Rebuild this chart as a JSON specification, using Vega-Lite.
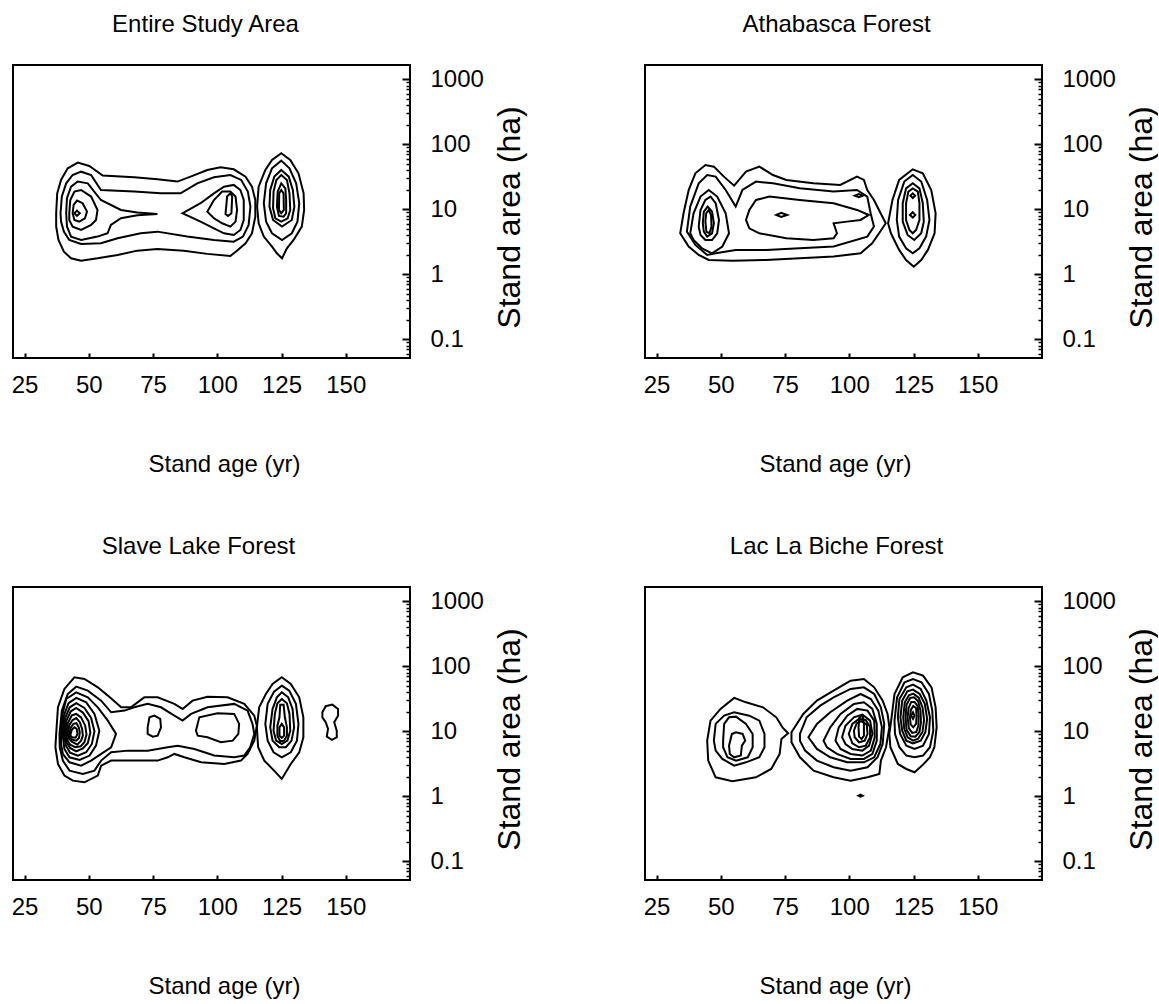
{
"$schema": "https://vega.github.io/schema/vega-lite/v6.json",
"background": "white",
"padding": {"left": 10, "top": 12, "right": 0, "bottom": 0},
"config": {
"view": {"stroke": "black", "strokeWidth": 2},
"font": "Liberation Sans",
"title": {"fontSize": 24, "fontWeight": "normal", "color": "black", "font": "Liberation Sans", "anchor": "middle", "frame": "group", "baseline": "alphabetic", "offset": 28},
"axisX": {"tickSize": -5, "tickWidth": 2, "tickColor": "black", "domain": false, "grid": false, "labelFont": "Liberation Sans", "labelFontSize": 24, "labelColor": "black", "labelPadding": 20, "titleFont": "Liberation Sans", "titleFontSize": 24, "titleFontWeight": "normal", "titleColor": "black", "titleY": 113, "titleAlign": "center", "titleBaseline": "alphabetic"},
"axisY": {"tickSize": -8, "tickWidth": 2, "tickColor": "black", "domain": false, "grid": false, "labelFont": "Liberation Sans", "labelFontSize": 24, "labelColor": "black", "labelPadding": 28, "labelAlign": "left", "titleFont": "Liberation Sans", "titleFontSize": 32, "titleFontWeight": "normal", "titleColor": "black", "titleAngle": -90, "titleX": 109, "titleY": 152, "titleAlign": "center", "titleBaseline": "alphabetic"}
},
"bounds": "flush",
"columns": 2,
"spacing": {"row": 229, "column": 235},
"datasets": {
"entire": [
{"c":"R1","age":124.9,"area":72.7},{"c":"R1","age":128.4,"area":57.4},{"c":"R1","age":131.6,"area":35.8},{"c":"R1","age":133.6,"area":17.6},{"c":"R1","age":133.8,"area":9.77},{"c":"R1","age":132.9,"area":5.41},{"c":"R1","age":129.7,"area":3.37},{"c":"R1","age":127.1,"area":2.51},{"c":"R1","age":125.2,"area":1.76},{"c":"R1","age":123.2,"area":2.10},{"c":"R1","age":121.3,"area":2.67},{"c":"R1","age":118.1,"area":3.80},{"c":"R1","age":116.1,"area":6.09},{"c":"R1","age":115.5,"area":11.0},{"c":"R1","age":116.1,"area":22.3},{"c":"R1","age":118.7,"area":40.3},{"c":"R1","age":121.3,"area":57.4},
{"c":"R2","age":124.9,"area":56.1},{"c":"R2","age":128.1,"area":42.7},{"c":"R2","age":130.7,"area":25.1},{"c":"R2","age":131.9,"area":12.4},{"c":"R2","age":131.2,"area":6.46},{"c":"R2","age":129.0,"area":4.27},{"c":"R2","age":125.2,"area":3.37},{"c":"R2","age":121.3,"area":4.27},{"c":"R2","age":119.0,"area":6.46},{"c":"R2","age":118.1,"area":12.4},{"c":"R2","age":119.0,"area":25.1},{"c":"R2","age":121.3,"area":42.7},
{"c":"R3","age":124.9,"area":40.3},{"c":"R3","age":127.8,"area":31.8},{"c":"R3","age":129.4,"area":19.8},{"c":"R3","age":130.0,"area":11.0},{"c":"R3","age":129.0,"area":6.85},{"c":"R3","age":125.2,"area":5.41},{"c":"R3","age":121.7,"area":6.85},{"c":"R3","age":120.3,"area":11.0},{"c":"R3","age":120.6,"area":19.8},{"c":"R3","age":122.2,"area":31.8},
{"c":"R4","age":124.9,"area":33.7},{"c":"R4","age":127.1,"area":28.3},{"c":"R4","age":128.1,"area":17.6},{"c":"R4","age":128.4,"area":9.77},{"c":"R4","age":127.4,"area":7.27},{"c":"R4","age":124.9,"area":6.46},{"c":"R4","age":122.6,"area":7.27},{"c":"R4","age":121.7,"area":10.4},{"c":"R4","age":121.9,"area":18.7},{"c":"R4","age":123.0,"area":28.3},
{"c":"R5","age":124.9,"area":25.1},{"c":"R5","age":126.5,"area":21.0},{"c":"R5","age":126.8,"area":13.9},{"c":"R5","age":126.8,"area":8.68},{"c":"R5","age":125.8,"area":7.71},{"c":"R5","age":124.0,"area":7.9},{"c":"R5","age":123.2,"area":11.0},{"c":"R5","age":123.5,"area":18.7},
{"c":"R6","age":124.9,"area":19.8},{"c":"R6","age":125.8,"area":17.6},{"c":"R6","age":125.9,"area":9.77},{"c":"R6","age":124.9,"area":8.68},{"c":"R6","age":124.0,"area":9.77},{"c":"R6","age":124.1,"area":17.6},
{"c":"C1","age":37.3,"area":8.68},{"c":"C1","age":37.7,"area":17.6},{"c":"C1","age":39.2,"area":28.3},{"c":"C1","age":41.8,"area":42.7},{"c":"C1","age":45.7,"area":52.2},{"c":"C1","age":50.2,"area":46.4},{"c":"C1","age":55.4,"area":33.0},{"c":"C1","age":67.7,"area":31.1},{"c":"C1","age":76.7,"area":29.0},{"c":"C1","age":84.5,"area":26.7},{"c":"C1","age":89.6,"area":31.8},{"c":"C1","age":96.1,"area":40.3},{"c":"C1","age":101.3,"area":44.3},{"c":"C1","age":106.4,"area":41.2},{"c":"C1","age":111.0,"area":31.8},{"c":"C1","age":113.5,"area":22.3},{"c":"C1","age":114.8,"area":13.9},{"c":"C1","age":114.8,"area":7.71},{"c":"C1","age":113.5,"area":4.27},{"c":"C1","age":111.0,"area":3.00},{"c":"C1","age":108.0,"area":2.37},{"c":"C1","age":105.1,"area":1.91},{"c":"C1","age":96.1,"area":2.06},{"c":"C1","age":87.0,"area":2.31},{"c":"C1","age":76.7,"area":2.45},{"c":"C1","age":68.9,"area":2.31},{"c":"C1","age":61.2,"area":1.98},{"c":"C1","age":53.4,"area":1.76},{"c":"C1","age":47.0,"area":1.62},{"c":"C1","age":43.1,"area":1.76},{"c":"C1","age":40.3,"area":2.23},{"c":"C1","age":38.2,"area":3.37},{"c":"C1","age":37.3,"area":5.41},
{"c":"C2","age":39.0,"area":8.68},{"c":"C2","age":39.5,"area":15.7},{"c":"C2","age":41.2,"area":25.1},{"c":"C2","age":43.7,"area":33.7},{"c":"C2","age":47.0,"area":37.9},{"c":"C2","age":50.9,"area":33.7},{"c":"C2","age":54.7,"area":19.8},{"c":"C2","age":67.7,"area":18.7},{"c":"C2","age":78.0,"area":17.6},{"c":"C2","age":85.7,"area":17.6},{"c":"C2","age":92.2,"area":25.1},{"c":"C2","age":98.7,"area":31.1},{"c":"C2","age":105.1,"area":33.7},{"c":"C2","age":109.3,"area":28.3},{"c":"C2","age":111.9,"area":18.7},{"c":"C2","age":112.9,"area":11.0},{"c":"C2","age":112.2,"area":5.74},{"c":"C2","age":110.0,"area":3.80},{"c":"C2","age":106.4,"area":3.18},{"c":"C2","age":98.7,"area":3.37},{"c":"C2","age":88.3,"area":3.80},{"c":"C2","age":76.7,"area":4.53},{"c":"C2","age":70.2,"area":4.27},{"c":"C2","age":61.2,"area":3.58},{"c":"C2","age":54.7,"area":3.00},{"c":"C2","age":47.0,"area":2.93},{"c":"C2","age":42.4,"area":3.37},{"c":"C2","age":40.3,"area":4.53},{"c":"C2","age":39.2,"area":6.46},
{"c":"C3","age":41.2,"area":8.68},{"c":"C3","age":41.5,"area":14.8},{"c":"C3","age":43.1,"area":22.3},{"c":"C3","age":45.7,"area":26.7},{"c":"C3","age":49.6,"area":25.1},{"c":"C3","age":54.7,"area":13.9},{"c":"C3","age":62.5,"area":9.77},{"c":"C3","age":68.9,"area":8.89},{"c":"C3","age":76.7,"area":8.47},{"c":"C3","age":68.9,"area":8.09},{"c":"C3","age":62.5,"area":7.27},{"c":"C3","age":58.6,"area":5.74},{"c":"C3","age":57.3,"area":4.27},{"c":"C3","age":53.4,"area":3.80},{"c":"C3","age":47.0,"area":3.37},{"c":"C3","age":43.1,"area":3.80},{"c":"C3","age":41.5,"area":5.41},
{"c":"C3m","age":86.4,"area":8.68},{"c":"C3m","age":93.5,"area":12.4},{"c":"C3m","age":98.7,"area":17.6},{"c":"C3m","age":102.6,"area":22.3},{"c":"C3m","age":106.4,"area":23.7},{"c":"C3m","age":109.0,"area":19.8},{"c":"C3m","age":110.3,"area":13.9},{"c":"C3m","age":110.3,"area":6.85},{"c":"C3m","age":109.0,"area":4.81},{"c":"C3m","age":106.4,"area":4.03},{"c":"C3m","age":102.6,"area":4.27},{"c":"C3m","age":98.7,"area":5.10},{"c":"C3m","age":93.5,"area":6.46},
{"c":"C4","age":42.4,"area":8.68},{"c":"C4","age":42.8,"area":13.9},{"c":"C4","age":44.4,"area":18.7},{"c":"C4","age":47.0,"area":19.8},{"c":"C4","age":50.9,"area":15.7},{"c":"C4","age":53.4,"area":9.77},{"c":"C4","age":52.8,"area":6.85},{"c":"C4","age":50.9,"area":5.74},{"c":"C4","age":47.0,"area":4.81},{"c":"C4","age":43.7,"area":5.41},{"c":"C4","age":42.4,"area":6.85},
{"c":"C4m","age":96.1,"area":9.20},{"c":"C4m","age":98.7,"area":13.9},{"c":"C4m","age":101.9,"area":18.7},{"c":"C4m","age":105.1,"area":18.7},{"c":"C4m","age":107.1,"area":15.7},{"c":"C4m","age":107.7,"area":9.77},{"c":"C4m","age":107.1,"area":6.46},{"c":"C4m","age":105.1,"area":5.41},{"c":"C4m","age":101.9,"area":6.09},{"c":"C4m","age":98.7,"area":7.27},
{"c":"C5","age":43.7,"area":8.68},{"c":"C5","age":44.1,"area":11.7},{"c":"C5","age":45.4,"area":13.6},{"c":"C5","age":47.6,"area":12.4},{"c":"C5","age":49.3,"area":9.20},{"c":"C5","age":48.5,"area":7.27},{"c":"C5","age":46.3,"area":6.46},{"c":"C5","age":44.4,"area":6.85},
{"c":"C5m","age":103.8,"area":15.7},{"c":"C5m","age":105.1,"area":17.6},{"c":"C5m","age":105.8,"area":15.7},{"c":"C5m","age":105.5,"area":8.68},{"c":"C5m","age":104.2,"area":7.9},{"c":"C5m","age":103.2,"area":8.47},{"c":"C5m","age":103.6,"area":12.4},
{"c":"C6","age":44.4,"area":8.68},{"c":"C6","age":45.4,"area":9.55},{"c":"C6","age":46.5,"area":8.68},{"c":"C6","age":45.4,"area":7.9}
],
"athabasca": [
{"c":"A1","age":34.2,"area":4.27},{"c":"A1","age":35.5,"area":8.68},{"c":"A1","age":37.5,"area":19.8},{"c":"A1","age":40.1,"area":35.8},{"c":"A1","age":44.0,"area":48.1},{"c":"A1","age":47.3,"area":45.3},{"c":"A1","age":51.2,"area":31.8},{"c":"A1","age":55.2,"area":23.1},{"c":"A1","age":59.8,"area":37.9},{"c":"A1","age":65.0,"area":45.3},{"c":"A1","age":70.3,"area":33.7},{"c":"A1","age":75.5,"area":28.3},{"c":"A1","age":86.0,"area":25.1},{"c":"A1","age":96.5,"area":23.7},{"c":"A1","age":103.0,"area":31.8},{"c":"A1","age":105.7,"area":28.3},{"c":"A1","age":107.0,"area":19.8},{"c":"A1","age":109.6,"area":13.9},{"c":"A1","age":112.2,"area":8.68},{"c":"A1","age":114.2,"area":6.09},{"c":"A1","age":111.6,"area":4.27},{"c":"A1","age":108.9,"area":3.00},{"c":"A1","age":104.4,"area":2.10},{"c":"A1","age":93.9,"area":1.87},{"c":"A1","age":80.7,"area":1.76},{"c":"A1","age":67.6,"area":1.66},{"c":"A1","age":54.5,"area":1.62},{"c":"A1","age":45.3,"area":1.66},{"c":"A1","age":41.4,"area":1.98},{"c":"A1","age":37.5,"area":2.67},
{"c":"A2","age":36.8,"area":4.53},{"c":"A2","age":38.1,"area":11.0},{"c":"A2","age":41.4,"area":25.1},{"c":"A2","age":44.7,"area":33.7},{"c":"A2","age":48.0,"area":31.8},{"c":"A2","age":51.9,"area":19.8},{"c":"A2","age":55.8,"area":11.0},{"c":"A2","age":58.4,"area":19.8},{"c":"A2","age":63.7,"area":26.7},{"c":"A2","age":70.3,"area":25.1},{"c":"A2","age":80.7,"area":21.0},{"c":"A2","age":93.9,"area":18.7},{"c":"A2","age":103.0,"area":19.8},{"c":"A2","age":107.0,"area":15.7},{"c":"A2","age":108.3,"area":8.68},{"c":"A2","age":109.6,"area":5.41},{"c":"A2","age":107.0,"area":3.80},{"c":"A2","age":93.9,"area":2.67},{"c":"A2","age":80.7,"area":2.51},{"c":"A2","age":67.6,"area":2.37},{"c":"A2","age":55.8,"area":2.37},{"c":"A2","age":48.0,"area":2.10},{"c":"A2","age":44.7,"area":1.98},{"c":"A2","age":40.1,"area":2.83},
{"c":"A3","age":38.1,"area":4.27},{"c":"A3","age":39.4,"area":8.68},{"c":"A3","age":42.1,"area":15.7},{"c":"A3","age":45.3,"area":19.8},{"c":"A3","age":48.6,"area":15.7},{"c":"A3","age":51.9,"area":8.68},{"c":"A3","age":53.2,"area":4.27},{"c":"A3","age":50.6,"area":2.67},{"c":"A3","age":46.6,"area":2.10},{"c":"A3","age":42.7,"area":2.51},{"c":"A3","age":39.4,"area":3.37},
{"c":"A4","age":41.4,"area":5.41},{"c":"A4","age":42.1,"area":9.77},{"c":"A4","age":44.0,"area":13.9},{"c":"A4","age":46.0,"area":15.7},{"c":"A4","age":48.0,"area":12.4},{"c":"A4","age":49.3,"area":6.85},{"c":"A4","age":48.6,"area":4.27},{"c":"A4","age":46.6,"area":3.37},{"c":"A4","age":44.0,"area":3.37},{"c":"A4","age":42.1,"area":4.03},
{"c":"A5","age":43.0,"area":6.09},{"c":"A5","age":43.4,"area":9.20},{"c":"A5","age":44.9,"area":11.0},{"c":"A5","age":46.6,"area":9.20},{"c":"A5","age":47.3,"area":6.09},{"c":"A5","age":46.6,"area":4.27},{"c":"A5","age":44.7,"area":3.80},{"c":"A5","age":43.4,"area":4.53},
{"c":"A6","age":44.0,"area":6.46},{"c":"A6","age":44.3,"area":8.68},{"c":"A6","age":45.3,"area":9.77},{"c":"A6","age":46.2,"area":8.18},{"c":"A6","age":46.4,"area":5.41},{"c":"A6","age":45.6,"area":4.27},{"c":"A6","age":44.4,"area":4.53},
{"c":"B","age":59.8,"area":6.85},{"c":"B","age":61.1,"area":9.77},{"c":"B","age":63.7,"area":13.9},{"c":"B","age":68.9,"area":15.7},{"c":"B","age":80.7,"area":13.9},{"c":"B","age":93.9,"area":12.4},{"c":"B","age":103.0,"area":9.77},{"c":"B","age":107.6,"area":8.18},{"c":"B","age":104.4,"area":6.85},{"c":"B","age":99.1,"area":6.46},{"c":"B","age":93.9,"area":6.09},{"c":"B","age":95.2,"area":4.27},{"c":"B","age":93.9,"area":3.58},{"c":"B","age":86.0,"area":3.37},{"c":"B","age":75.5,"area":3.58},{"c":"B","age":65.0,"area":4.27},{"c":"B","age":61.1,"area":5.10},
{"c":"E1","age":71.6,"area":8.18},{"c":"E1","age":73.5,"area":8.79},{"c":"E1","age":75.8,"area":8.18},{"c":"E1","age":73.5,"area":7.62},
{"c":"E2","age":102.1,"area":16.2},{"c":"E2","age":103.7,"area":17.2},{"c":"E2","age":105.3,"area":16.2},{"c":"E2","age":103.7,"area":15.3},
{"c":"RB1","age":124.7,"area":41.2},{"c":"RB1","age":128.6,"area":35.8},{"c":"RB1","age":131.9,"area":19.8},{"c":"RB1","age":133.6,"area":8.68},{"c":"RB1","age":133.2,"area":4.27},{"c":"RB1","age":130.6,"area":2.37},{"c":"RB1","age":128.0,"area":1.66},{"c":"RB1","age":125.1,"area":1.31},{"c":"RB1","age":122.1,"area":1.66},{"c":"RB1","age":119.4,"area":2.37},{"c":"RB1","age":116.2,"area":4.27},{"c":"RB1","age":115.1,"area":6.09},{"c":"RB1","age":116.8,"area":13.9},{"c":"RB1","age":119.4,"area":28.3},
{"c":"RB2","age":124.7,"area":33.7},{"c":"RB2","age":128.0,"area":26.7},{"c":"RB2","age":130.3,"area":13.9},{"c":"RB2","age":131.2,"area":6.85},{"c":"RB2","age":129.9,"area":3.80},{"c":"RB2","age":127.3,"area":2.51},{"c":"RB2","age":124.7,"area":2.10},{"c":"RB2","age":122.1,"area":2.51},{"c":"RB2","age":119.4,"area":3.80},{"c":"RB2","age":118.5,"area":6.85},{"c":"RB2","age":119.0,"area":13.9},{"c":"RB2","age":121.4,"area":26.7},
{"c":"RB3","age":124.7,"area":25.1},{"c":"RB3","age":127.3,"area":21.0},{"c":"RB3","age":128.6,"area":12.4},{"c":"RB3","age":129.0,"area":6.46},{"c":"RB3","age":128.0,"area":4.27},{"c":"RB3","age":125.3,"area":3.37},{"c":"RB3","age":122.7,"area":4.03},{"c":"RB3","age":120.8,"area":6.46},{"c":"RB3","age":120.8,"area":12.4},{"c":"RB3","age":122.1,"area":21.0},
{"c":"RB4","age":124.7,"area":21.0},{"c":"RB4","age":126.7,"area":18.7},{"c":"RB4","age":127.3,"area":12.4},{"c":"RB4","age":127.3,"area":6.85},{"c":"RB4","age":126.0,"area":4.81},{"c":"RB4","age":124.7,"area":4.27},{"c":"RB4","age":123.4,"area":4.81},{"c":"RB4","age":122.1,"area":6.85},{"c":"RB4","age":122.1,"area":12.4},{"c":"RB4","age":123.0,"area":18.7},
{"c":"RB5","age":123.8,"area":16.2},{"c":"RB5","age":124.7,"area":17.6},{"c":"RB5","age":125.6,"area":16.2},{"c":"RB5","age":124.7,"area":14.9},
{"c":"RB6","age":123.6,"area":8.18},{"c":"RB6","age":124.7,"area":9.0},{"c":"RB6","age":125.7,"area":8.18},{"c":"RB6","age":124.7,"area":7.45}
],
"slave": [
{"c":"S1","age":37.3,"area":9.1},{"c":"S1","age":38.0,"area":23.4},{"c":"S1","age":40.5,"area":44.8},{"c":"S1","age":44.4,"area":67.7},{"c":"S1","age":48.3,"area":63.8},{"c":"S1","age":53.5,"area":47.5},{"c":"S1","age":57.4,"area":35.4},{"c":"S1","age":62.6,"area":23.4},{"c":"S1","age":66.4,"area":23.4},{"c":"S1","age":71.6,"area":33.3},{"c":"S1","age":76.8,"area":33.3},{"c":"S1","age":83.3,"area":26.4},{"c":"S1","age":86.5,"area":22.1},{"c":"S1","age":90.4,"area":29.6},{"c":"S1","age":96.2,"area":34.1},{"c":"S1","age":104.0,"area":33.3},{"c":"S1","age":110.5,"area":26.4},{"c":"S1","age":114.4,"area":17.4},{"c":"S1","age":115.4,"area":12.2},{"c":"S1","age":114.4,"area":7.18},{"c":"S1","age":111.8,"area":4.48},{"c":"S1","age":109.2,"area":3.54},{"c":"S1","age":102.7,"area":3.14},{"c":"S1","age":93.7,"area":3.33},{"c":"S1","age":87.2,"area":3.98},{"c":"S1","age":83.3,"area":4.48},{"c":"S1","age":80.7,"area":3.98},{"c":"S1","age":76.8,"area":3.54},{"c":"S1","age":67.7,"area":3.54},{"c":"S1","age":58.7,"area":3.54},{"c":"S1","age":54.8,"area":2.96},{"c":"S1","age":53.5,"area":2.08},{"c":"S1","age":48.3,"area":1.64},{"c":"S1","age":43.8,"area":1.74},{"c":"S1","age":40.5,"area":2.08},{"c":"S1","age":38.0,"area":3.14},{"c":"S1","age":37.0,"area":5.68},
{"c":"S2","age":38.6,"area":9.1},{"c":"S2","age":39.5,"area":20.8},{"c":"S2","age":41.8,"area":37.5},{"c":"S2","age":45.1,"area":48.6},{"c":"S2","age":49.6,"area":42.3},{"c":"S2","age":54.8,"area":29.6},{"c":"S2","age":58.7,"area":19.6},{"c":"S2","age":63.9,"area":20.8},{"c":"S2","age":67.7,"area":23.4},{"c":"S2","age":72.9,"area":26.4},{"c":"S2","age":78.1,"area":23.4},{"c":"S2","age":83.3,"area":17.4},{"c":"S2","age":86.5,"area":14.6},{"c":"S2","age":89.8,"area":18.5},{"c":"S2","age":96.2,"area":23.4},{"c":"S2","age":106.6,"area":26.4},{"c":"S2","age":111.8,"area":20.8},{"c":"S2","age":113.7,"area":13.0},{"c":"S2","age":114.4,"area":9.1},{"c":"S2","age":112.8,"area":5.68},{"c":"S2","age":110.5,"area":4.23},{"c":"S2","age":106.6,"area":3.98},{"c":"S2","age":98.8,"area":4.23},{"c":"S2","age":91.1,"area":5.35},{"c":"S2","age":84.6,"area":6.01},{"c":"S2","age":80.7,"area":5.68},{"c":"S2","age":72.9,"area":5.04},{"c":"S2","age":65.2,"area":5.04},{"c":"S2","age":58.7,"area":4.75},{"c":"S2","age":54.8,"area":3.54},{"c":"S2","age":52.2,"area":2.48},{"c":"S2","age":47.7,"area":2.21},{"c":"S2","age":42.5,"area":2.48},{"c":"S2","age":39.9,"area":3.54},{"c":"S2","age":38.7,"area":5.68},
{"c":"G1","age":72.9,"area":11.5},{"c":"G1","age":73.6,"area":16.4},{"c":"G1","age":75.5,"area":17.4},{"c":"G1","age":77.8,"area":15.5},{"c":"G1","age":78.1,"area":11.5},{"c":"G1","age":76.8,"area":8.57},{"c":"G1","age":74.9,"area":8.28},{"c":"G1","age":72.9,"area":9.1},
{"c":"G2","age":91.7,"area":10.2},{"c":"G2","age":93.0,"area":16.4},{"c":"G2","age":100.1,"area":18.9},{"c":"G2","age":106.6,"area":18.5},{"c":"G2","age":108.5,"area":13.0},{"c":"G2","age":108.2,"area":9.1},{"c":"G2","age":106.0,"area":7.18},{"c":"G2","age":101.4,"area":6.78},{"c":"G2","age":96.2,"area":8.09},{"c":"G2","age":92.4,"area":8.57},
{"c":"L3","age":39.2,"area":9.1},{"c":"L3","age":39.8,"area":18.5},{"c":"L3","age":41.2,"area":31.4},{"c":"L3","age":45.1,"area":39.8},{"c":"L3","age":49.6,"area":33.3},{"c":"L3","age":53.5,"area":23.4},{"c":"L3","age":57.4,"area":14.6},{"c":"L3","age":60.6,"area":9.1},{"c":"L3","age":58.7,"area":5.68},{"c":"L3","age":54.8,"area":4.48},{"c":"L3","age":50.9,"area":3.54},{"c":"L3","age":47.0,"area":2.96},{"c":"L3","age":42.5,"area":3.33},{"c":"L3","age":39.9,"area":4.48},{"c":"L3","age":39.2,"area":6.38},
{"c":"L4","age":39.8,"area":9.1},{"c":"L4","age":40.3,"area":17.4},{"c":"L4","age":42.1,"area":27.0},{"c":"L4","age":45.1,"area":32.6},{"c":"L4","age":49.0,"area":27.9},{"c":"L4","age":52.2,"area":18.5},{"c":"L4","age":54.1,"area":10.2},{"c":"L4","age":52.8,"area":6.01},{"c":"L4","age":50.3,"area":4.23},{"c":"L4","age":46.4,"area":3.62},{"c":"L4","age":42.5,"area":3.98},{"c":"L4","age":40.5,"area":5.35},
{"c":"L5","age":40.3,"area":9.1},{"c":"L5","age":40.8,"area":16.0},{"c":"L5","age":42.6,"area":23.4},{"c":"L5","age":45.1,"area":27.0},{"c":"L5","age":48.3,"area":22.9},{"c":"L5","age":50.9,"area":16.0},{"c":"L5","age":52.2,"area":10.0},{"c":"L5","age":51.2,"area":6.38},{"c":"L5","age":49.0,"area":4.75},{"c":"L5","age":45.7,"area":4.23},{"c":"L5","age":42.7,"area":4.70},{"c":"L5","age":41.1,"area":6.01},
{"c":"L6","age":40.8,"area":9.1},{"c":"L6","age":41.3,"area":14.6},{"c":"L6","age":43.0,"area":20.3},{"c":"L6","age":45.1,"area":22.9},{"c":"L6","age":47.7,"area":19.4},{"c":"L6","age":49.9,"area":14.3},{"c":"L6","age":50.6,"area":9.55},{"c":"L6","age":49.6,"area":6.53},{"c":"L6","age":47.7,"area":5.47},{"c":"L6","age":45.1,"area":4.92},{"c":"L6","age":42.7,"area":5.55},{"c":"L6","age":41.3,"area":6.78},
{"c":"L7","age":41.3,"area":9.1},{"c":"L7","age":41.8,"area":13.3},{"c":"L7","age":43.4,"area":17.6},{"c":"L7","age":45.1,"area":18.5},{"c":"L7","age":47.0,"area":16.4},{"c":"L7","age":48.6,"area":12.2},{"c":"L7","age":49.1,"area":8.89},{"c":"L7","age":48.3,"area":6.78},{"c":"L7","age":46.8,"area":5.87},{"c":"L7","age":44.7,"area":5.68},{"c":"L7","age":42.7,"area":6.24},{"c":"L7","age":41.6,"area":7.36},
{"c":"L8","age":41.8,"area":9.1},{"c":"L8","age":42.4,"area":12.4},{"c":"L8","age":43.7,"area":14.9},{"c":"L8","age":45.1,"area":16.0},{"c":"L8","age":46.5,"area":13.8},{"c":"L8","age":47.4,"area":10.9},{"c":"L8","age":47.7,"area":8.57},{"c":"L8","age":47.0,"area":7.18},{"c":"L8","age":45.5,"area":6.24},{"c":"L8","age":43.4,"area":6.93},{"c":"L8","age":42.1,"area":7.8},
{"c":"L9","age":42.4,"area":9.1},{"c":"L9","age":42.9,"area":11.2},{"c":"L9","age":44.0,"area":13.0},{"c":"L9","age":45.2,"area":13.3},{"c":"L9","age":46.1,"area":11.5},{"c":"L9","age":46.5,"area":9.55},{"c":"L9","age":46.2,"area":7.9},{"c":"L9","age":45.1,"area":7.18},{"c":"L9","age":43.4,"area":7.45},{"c":"L9","age":42.5,"area":8.09},
{"c":"L10","age":42.9,"area":9.1},{"c":"L10","age":43.4,"area":10.5},{"c":"L10","age":44.4,"area":11.5},{"c":"L10","age":45.3,"area":10.9},{"c":"L10","age":45.6,"area":9.1},{"c":"L10","age":44.9,"area":8.0},{"c":"L10","age":43.7,"area":8.0},{"c":"L10","age":43.0,"area":8.37},
{"c":"T1","age":125.1,"area":67.7},{"c":"T1","age":128.6,"area":53.5},{"c":"T1","age":131.9,"area":33.3},{"c":"T1","age":133.5,"area":16.4},{"c":"T1","age":133.5,"area":8.09},{"c":"T1","age":131.9,"area":4.75},{"c":"T1","age":128.6,"area":3.14},{"c":"T1","age":125.1,"area":1.85},{"c":"T1","age":122.1,"area":2.48},{"c":"T1","age":118.3,"area":3.54},{"c":"T1","age":115.9,"area":5.68},{"c":"T1","age":115.4,"area":11.5},{"c":"T1","age":116.3,"area":23.4},{"c":"T1","age":118.9,"area":37.5},{"c":"T1","age":121.5,"area":53.5},
{"c":"T2","age":125.1,"area":50.4},{"c":"T2","age":128.0,"area":42.3},{"c":"T2","age":130.6,"area":26.4},{"c":"T2","age":131.6,"area":13.0},{"c":"T2","age":131.0,"area":7.18},{"c":"T2","age":128.6,"area":4.75},{"c":"T2","age":125.1,"area":3.98},{"c":"T2","age":121.9,"area":4.75},{"c":"T2","age":119.6,"area":7.18},{"c":"T2","age":118.7,"area":13.0},{"c":"T2","age":119.6,"area":26.4},{"c":"T2","age":122.1,"area":40.8},
{"c":"T3","age":125.1,"area":39.8},{"c":"T3","age":127.6,"area":33.3},{"c":"T3","age":129.3,"area":22.1},{"c":"T3","age":129.9,"area":11.5},{"c":"T3","age":128.9,"area":7.18},{"c":"T3","age":126.7,"area":5.68},{"c":"T3","age":124.1,"area":5.68},{"c":"T3","age":121.5,"area":7.18},{"c":"T3","age":120.6,"area":11.5},{"c":"T3","age":121.5,"area":22.1},{"c":"T3","age":123.2,"area":33.3},
{"c":"T4","age":125.1,"area":31.4},{"c":"T4","age":127.1,"area":27.0},{"c":"T4","age":128.1,"area":18.5},{"c":"T4","age":128.4,"area":10.2},{"c":"T4","age":127.3,"area":7.18},{"c":"T4","age":125.1,"area":6.38},{"c":"T4","age":122.9,"area":7.18},{"c":"T4","age":121.9,"area":10.2},{"c":"T4","age":122.4,"area":18.5},{"c":"T4","age":123.4,"area":27.0},
{"c":"T5","age":124.5,"area":25.7},{"c":"T5","age":125.8,"area":25.7},{"c":"T5","age":126.3,"area":16.4},{"c":"T5","age":127.1,"area":11.5},{"c":"T5","age":127.1,"area":8.57},{"c":"T5","age":126.0,"area":7.18},{"c":"T5","age":124.5,"area":7.02},{"c":"T5","age":123.4,"area":8.57},{"c":"T5","age":123.4,"area":12.2},{"c":"T5","age":124.2,"area":16.4},
{"c":"T6","age":125.1,"area":13.0},{"c":"T6","age":126.0,"area":11.5},{"c":"T6","age":126.0,"area":8.57},{"c":"T6","age":125.1,"area":7.9},{"c":"T6","age":124.2,"area":8.57},{"c":"T6","age":124.2,"area":11.5},
{"c":"SB","age":140.9,"area":19.6},{"c":"SB","age":142.2,"area":24.3},{"c":"SB","age":144.8,"area":25.7},{"c":"SB","age":147.0,"area":22.1},{"c":"SB","age":147.0,"area":17.4},{"c":"SB","age":145.5,"area":13.8},{"c":"SB","age":146.5,"area":10.2},{"c":"SB","age":146.5,"area":8.09},{"c":"SB","age":144.6,"area":7.36},{"c":"SB","age":142.6,"area":8.28},{"c":"SB","age":143.1,"area":10.9},{"c":"SB","age":142.2,"area":13.8},{"c":"SB","age":140.9,"area":16.4}
],
"lac": [
{"c":"D1","age":44.7,"area":7.18},{"c":"D1","age":46.0,"area":14.6},{"c":"D1","age":49.9,"area":22.1},{"c":"D1","age":55.2,"area":32.6},{"c":"D1","age":59.8,"area":27.9},{"c":"D1","age":66.4,"area":23.4},{"c":"D1","age":71.6,"area":16.4},{"c":"D1","age":74.0,"area":11.5},{"c":"D1","age":76.2,"area":9.32},{"c":"D1","age":73.6,"area":7.62},{"c":"D1","age":72.9,"area":4.48},{"c":"D1","age":69.6,"area":2.63},{"c":"D1","age":63.7,"area":1.96},{"c":"D1","age":54.5,"area":1.70},{"c":"D1","age":48.0,"area":1.96},{"c":"D1","age":45.1,"area":3.54},
{"c":"D2","age":47.3,"area":7.18},{"c":"D2","age":48.0,"area":13.0},{"c":"D2","age":51.3,"area":17.4},{"c":"D2","age":55.2,"area":19.6},{"c":"D2","age":61.1,"area":17.4},{"c":"D2","age":65.0,"area":14.6},{"c":"D2","age":67.0,"area":9.1},{"c":"D2","age":67.0,"area":5.68},{"c":"D2","age":65.0,"area":3.98},{"c":"D2","age":59.8,"area":3.33},{"c":"D2","age":55.2,"area":2.96},{"c":"D2","age":50.6,"area":3.75},{"c":"D2","age":48.0,"area":5.04},
{"c":"D3","age":50.9,"area":7.18},{"c":"D3","age":51.3,"area":13.0},{"c":"D3","age":53.2,"area":16.4},{"c":"D3","age":55.9,"area":16.8},{"c":"D3","age":59.8,"area":13.0},{"c":"D3","age":62.4,"area":9.1},{"c":"D3","age":62.4,"area":5.68},{"c":"D3","age":60.5,"area":3.98},{"c":"D3","age":55.9,"area":3.54},{"c":"D3","age":52.6,"area":3.98},{"c":"D3","age":50.9,"area":5.68},
{"c":"D4","age":53.2,"area":6.01},{"c":"D4","age":54.3,"area":9.1},{"c":"D4","age":55.9,"area":9.65},{"c":"D4","age":58.5,"area":9.1},{"c":"D4","age":59.5,"area":7.18},{"c":"D4","age":58.2,"area":6.01},{"c":"D4","age":57.8,"area":4.23},{"c":"D4","age":55.2,"area":3.98},{"c":"D4","age":53.5,"area":4.48},
{"c":"M1","age":77.5,"area":9.65},{"c":"M1","age":82.1,"area":18.5},{"c":"M1","age":87.4,"area":29.6},{"c":"M1","age":93.9,"area":42.3},{"c":"M1","age":100.5,"area":60.1},{"c":"M1","age":105.7,"area":63.8},{"c":"M1","age":109.7,"area":47.5},{"c":"M1","age":113.0,"area":29.6},{"c":"M1","age":114.9,"area":18.5},{"c":"M1","age":115.6,"area":11.5},{"c":"M1","age":114.3,"area":5.68},{"c":"M1","age":112.3,"area":3.54},{"c":"M1","age":111.7,"area":2.21},{"c":"M1","age":107.1,"area":1.96},{"c":"M1","age":100.5,"area":1.74},{"c":"M1","age":93.9,"area":1.96},{"c":"M1","age":86.1,"area":2.48},{"c":"M1","age":80.8,"area":3.98},{"c":"M1","age":77.5,"area":6.78},
{"c":"M2","age":80.8,"area":9.1},{"c":"M2","age":83.4,"area":16.4},{"c":"M2","age":88.7,"area":24.8},{"c":"M2","age":93.9,"area":33.3},{"c":"M2","age":100.5,"area":44.8},{"c":"M2","age":105.7,"area":47.5},{"c":"M2","age":109.7,"area":37.5},{"c":"M2","age":112.3,"area":23.4},{"c":"M2","age":113.6,"area":13.0},{"c":"M2","age":113.0,"area":6.38},{"c":"M2","age":111.0,"area":3.98},{"c":"M2","age":107.1,"area":2.80},{"c":"M2","age":100.5,"area":2.48},{"c":"M2","age":93.9,"area":2.80},{"c":"M2","age":87.4,"area":3.54},{"c":"M2","age":82.8,"area":5.04},{"c":"M2","age":80.8,"area":7.18},
{"c":"M3","age":84.1,"area":8.09},{"c":"M3","age":87.4,"area":13.0},{"c":"M3","age":92.6,"area":19.6},{"c":"M3","age":99.2,"area":29.6},{"c":"M3","age":104.4,"area":37.5},{"c":"M3","age":108.4,"area":31.4},{"c":"M3","age":111.3,"area":20.8},{"c":"M3","age":112.7,"area":11.5},{"c":"M3","age":112.1,"area":6.38},{"c":"M3","age":109.7,"area":3.98},{"c":"M3","age":105.7,"area":3.33},{"c":"M3","age":99.2,"area":3.33},{"c":"M3","age":92.6,"area":3.98},{"c":"M3","age":87.4,"area":5.35},
{"c":"M4","age":90.0,"area":7.18},{"c":"M4","age":92.6,"area":11.5},{"c":"M4","age":96.6,"area":18.5},{"c":"M4","age":101.8,"area":26.4},{"c":"M4","age":105.7,"area":27.9},{"c":"M4","age":109.0,"area":22.1},{"c":"M4","age":110.7,"area":13.0},{"c":"M4","age":110.7,"area":7.18},{"c":"M4","age":109.0,"area":4.48},{"c":"M4","age":105.7,"area":3.75},{"c":"M4","age":100.5,"area":3.75},{"c":"M4","age":95.2,"area":4.48},{"c":"M4","age":91.3,"area":5.68},
{"c":"M5","age":94.6,"area":7.18},{"c":"M5","age":95.9,"area":11.5},{"c":"M5","age":99.2,"area":17.4},{"c":"M5","age":103.1,"area":22.1},{"c":"M5","age":107.1,"area":20.8},{"c":"M5","age":109.7,"area":14.6},{"c":"M5","age":109.9,"area":8.09},{"c":"M5","age":108.4,"area":5.04},{"c":"M5","age":105.1,"area":4.23},{"c":"M5","age":100.5,"area":4.48},{"c":"M5","age":96.6,"area":5.35},
{"c":"M6","age":97.2,"area":8.09},{"c":"M6","age":98.5,"area":12.2},{"c":"M6","age":101.8,"area":16.4},{"c":"M6","age":105.1,"area":18.1},{"c":"M6","age":108.1,"area":14.6},{"c":"M6","age":109.0,"area":9.1},{"c":"M6","age":107.7,"area":6.01},{"c":"M6","age":105.1,"area":5.04},{"c":"M6","age":101.2,"area":5.35},{"c":"M6","age":98.5,"area":6.38},
{"c":"M7","age":99.8,"area":9.1},{"c":"M7","age":101.2,"area":13.0},{"c":"M7","age":103.8,"area":15.5},{"c":"M7","age":106.4,"area":14.9},{"c":"M7","age":108.1,"area":11.5},{"c":"M7","age":108.1,"area":8.09},{"c":"M7","age":106.4,"area":6.01},{"c":"M7","age":103.8,"area":5.68},{"c":"M7","age":101.2,"area":6.53},
{"c":"M8","age":101.8,"area":10.2},{"c":"M8","age":102.9,"area":13.3},{"c":"M8","age":104.7,"area":14.3},{"c":"M8","age":106.8,"area":12.7},{"c":"M8","age":107.1,"area":9.1},{"c":"M8","age":106.0,"area":7.18},{"c":"M8","age":103.8,"area":6.78},{"c":"M8","age":102.1,"area":8.09},
{"c":"M9","age":103.9,"area":16.4},{"c":"M9","age":105.2,"area":17.3},{"c":"M9","age":105.7,"area":13.0},{"c":"M9","age":105.7,"area":8.57},{"c":"M9","age":104.8,"area":7.62},{"c":"M9","age":103.8,"area":8.28},{"c":"M9","age":103.6,"area":11.5},
{"c":"N1","age":116.3,"area":14.6},{"c":"N1","age":117.6,"area":37.5},{"c":"N1","age":120.8,"area":67.7},{"c":"N1","age":124.8,"area":80.9},{"c":"N1","age":128.7,"area":71.8},{"c":"N1","age":132.0,"area":47.5},{"c":"N1","age":133.6,"area":23.4},{"c":"N1","age":134.0,"area":11.5},{"c":"N1","age":133.1,"area":5.68},{"c":"N1","age":131.4,"area":3.98},{"c":"N1","age":128.7,"area":3.07},{"c":"N1","age":125.4,"area":2.34},{"c":"N1","age":122.2,"area":2.63},{"c":"N1","age":118.9,"area":3.14},{"c":"N1","age":116.0,"area":5.68},{"c":"N1","age":115.6,"area":9.1},
{"c":"N2","age":117.6,"area":14.6},{"c":"N2","age":118.6,"area":33.3},{"c":"N2","age":121.5,"area":56.8},{"c":"N2","age":124.8,"area":63.8},{"c":"N2","age":128.1,"area":56.8},{"c":"N2","age":131.0,"area":37.5},{"c":"N2","age":132.3,"area":20.8},{"c":"N2","age":132.7,"area":10.2},{"c":"N2","age":131.4,"area":5.68},{"c":"N2","age":128.7,"area":4.23},{"c":"N2","age":125.4,"area":3.98},{"c":"N2","age":122.2,"area":4.23},{"c":"N2","age":119.5,"area":5.68},{"c":"N2","age":117.8,"area":9.1},
{"c":"N3","age":118.9,"area":16.4},{"c":"N3","age":119.5,"area":31.4},{"c":"N3","age":122.2,"area":47.5},{"c":"N3","age":124.8,"area":52.2},{"c":"N3","age":127.8,"area":44.8},{"c":"N3","age":130.0,"area":29.6},{"c":"N3","age":131.4,"area":16.4},{"c":"N3","age":131.0,"area":9.1},{"c":"N3","age":128.7,"area":6.01},{"c":"N3","age":125.4,"area":5.35},{"c":"N3","age":122.2,"area":6.01},{"c":"N3","age":119.8,"area":9.1},
{"c":"N4","age":119.9,"area":16.4},{"c":"N4","age":120.6,"area":29.6},{"c":"N4","age":122.6,"area":41.2},{"c":"N4","age":124.8,"area":43.7},{"c":"N4","age":127.4,"area":37.5},{"c":"N4","age":129.4,"area":26.4},{"c":"N4","age":130.3,"area":15.5},{"c":"N4","age":129.6,"area":9.65},{"c":"N4","age":127.8,"area":7.18},{"c":"N4","age":124.8,"area":6.53},{"c":"N4","age":122.2,"area":7.18},{"c":"N4","age":120.6,"area":10.2},
{"c":"N5","age":121.0,"area":16.4},{"c":"N5","age":121.6,"area":27.9},{"c":"N5","age":123.2,"area":35.8},{"c":"N5","age":124.9,"area":37.9},{"c":"N5","age":127.0,"area":33.0},{"c":"N5","age":128.5,"area":23.4},{"c":"N5","age":129.1,"area":14.9},{"c":"N5","age":128.5,"area":9.77},{"c":"N5","age":126.8,"area":7.71},{"c":"N5","age":124.8,"area":7.18},{"c":"N5","age":122.7,"area":8.09},{"c":"N5","age":121.4,"area":10.9},
{"c":"N6","age":121.9,"area":16.4},{"c":"N6","age":122.3,"area":25.7},{"c":"N6","age":123.7,"area":32.6},{"c":"N6","age":125.2,"area":33.3},{"c":"N6","age":126.8,"area":28.9},{"c":"N6","age":127.7,"area":20.8},{"c":"N6","age":127.9,"area":13.8},{"c":"N6","age":127.3,"area":9.77},{"c":"N6","age":125.7,"area":8.28},{"c":"N6","age":123.9,"area":8.37},{"c":"N6","age":122.3,"area":10.5},
{"c":"N7","age":122.7,"area":16.4},{"c":"N7","age":123.1,"area":22.9},{"c":"N7","age":124.1,"area":28.3},{"c":"N7","age":125.4,"area":28.3},{"c":"N7","age":126.6,"area":24.3},{"c":"N7","age":127.0,"area":17.4},{"c":"N7","age":126.9,"area":12.2},{"c":"N7","age":126.1,"area":9.77},{"c":"N7","age":124.5,"area":9.43},{"c":"N7","age":123.2,"area":11.1},
{"c":"N8","age":123.6,"area":16.4},{"c":"N8","age":124.0,"area":21.5},{"c":"N8","age":124.9,"area":24.5},{"c":"N8","age":126.0,"area":22.6},{"c":"N8","age":126.2,"area":17.0},{"c":"N8","age":126.0,"area":13.0},{"c":"N8","age":124.9,"area":11.5},{"c":"N8","age":123.9,"area":12.7},
{"c":"N9","age":124.1,"area":17.4},{"c":"N9","age":124.8,"area":19.6},{"c":"N9","age":125.4,"area":17.4},{"c":"N9","age":124.8,"area":15.5},
{"c":"Dot","age":103.6,"area":1.02},{"c":"Dot","age":104.4,"area":1.06},{"c":"Dot","age":105.2,"area":1.02},{"c":"Dot","age":104.4,"area":0.988}
]
},
"concat": [
{
"title": {"text": "Entire Study Area", "dx": -6},
"width": 397, "height": 293,
"data": {"name": "entire"},
"layer": [
{"mark": {"type": "line", "interpolate": "linear-closed", "stroke": "black", "strokeWidth": 2},
"encoding": {
"x": {"field": "age", "type": "quantitative", "scale": {"domain": [20.5, 175], "nice": false, "zero": false}, "axis": {"orient": "bottom", "values": [25, 50, 75, 100, 125, 150], "title": "Stand age (yr)", "titleX": 211}},
"y": {"field": "area", "type": "quantitative", "scale": {"type": "log", "domain": [0.0515, 1660], "nice": false}, "axis": {"orient": "right", "values": [0.1, 1, 10, 100, 1000], "labelExpr": "datum.value < 1 ? '0.1' : format(datum.value, 'd')", "title": "Stand area (ha)"}},
"detail": {"field": "c", "type": "nominal"},
"order": {"value": null}
}},
{"mark": {"type": "point", "opacity": 0},
"encoding": {
"x": {"field": "age", "type": "quantitative"},
"y": {"field": "area", "type": "quantitative", "axis": {"orient": "right", "values": [0.06,0.07,0.08,0.09,0.2,0.3,0.4,0.5,0.6,0.7,0.8,0.9,2,3,4,5,6,7,8,9,20,30,40,50,60,70,80,90,200,300,400,500,600,700,800,900], "tickSize": -4, "tickWidth": 1.5, "labels": false, "title": null}}
}}
],
"resolve": {"axis": {"y": "independent"}}
},
{
"title": {"text": "Athabasca Forest", "dx": -7},
"width": 397, "height": 293,
"data": {"name": "athabasca"},
"layer": [
{"mark": {"type": "line", "interpolate": "linear-closed", "stroke": "black", "strokeWidth": 2},
"encoding": {
"x": {"field": "age", "type": "quantitative", "scale": {"domain": [20.5, 175], "nice": false, "zero": false}, "axis": {"orient": "bottom", "values": [25, 50, 75, 100, 125, 150], "title": "Stand age (yr)", "titleX": 190}},
"y": {"field": "area", "type": "quantitative", "scale": {"type": "log", "domain": [0.0515, 1660], "nice": false}, "axis": {"orient": "right", "values": [0.1, 1, 10, 100, 1000], "labelExpr": "datum.value < 1 ? '0.1' : format(datum.value, 'd')", "title": "Stand area (ha)"}},
"detail": {"field": "c", "type": "nominal"},
"order": {"value": null}
}},
{"mark": {"type": "point", "opacity": 0},
"encoding": {
"x": {"field": "age", "type": "quantitative"},
"y": {"field": "area", "type": "quantitative", "axis": {"orient": "right", "values": [0.06,0.07,0.08,0.09,0.2,0.3,0.4,0.5,0.6,0.7,0.8,0.9,2,3,4,5,6,7,8,9,20,30,40,50,60,70,80,90,200,300,400,500,600,700,800,900], "tickSize": -4, "tickWidth": 1.5, "labels": false, "title": null}}
}}
],
"resolve": {"axis": {"y": "independent"}}
},
{
"title": {"text": "Slave Lake Forest", "dx": -13},
"width": 397, "height": 293,
"data": {"name": "slave"},
"layer": [
{"mark": {"type": "line", "interpolate": "linear-closed", "stroke": "black", "strokeWidth": 2},
"encoding": {
"x": {"field": "age", "type": "quantitative", "scale": {"domain": [20.5, 175], "nice": false, "zero": false}, "axis": {"orient": "bottom", "values": [25, 50, 75, 100, 125, 150], "title": "Stand age (yr)", "titleX": 211}},
"y": {"field": "area", "type": "quantitative", "scale": {"type": "log", "domain": [0.0515, 1660], "nice": false}, "axis": {"orient": "right", "values": [0.1, 1, 10, 100, 1000], "labelExpr": "datum.value < 1 ? '0.1' : format(datum.value, 'd')", "title": "Stand area (ha)"}},
"detail": {"field": "c", "type": "nominal"},
"order": {"value": null}
}},
{"mark": {"type": "point", "opacity": 0},
"encoding": {
"x": {"field": "age", "type": "quantitative"},
"y": {"field": "area", "type": "quantitative", "axis": {"orient": "right", "values": [0.06,0.07,0.08,0.09,0.2,0.3,0.4,0.5,0.6,0.7,0.8,0.9,2,3,4,5,6,7,8,9,20,30,40,50,60,70,80,90,200,300,400,500,600,700,800,900], "tickSize": -4, "tickWidth": 1.5, "labels": false, "title": null}}
}}
],
"resolve": {"axis": {"y": "independent"}}
},
{
"title": {"text": "Lac La Biche Forest", "dx": -7},
"width": 397, "height": 293,
"data": {"name": "lac"},
"layer": [
{"mark": {"type": "line", "interpolate": "linear-closed", "stroke": "black", "strokeWidth": 2},
"encoding": {
"x": {"field": "age", "type": "quantitative", "scale": {"domain": [20.5, 175], "nice": false, "zero": false}, "axis": {"orient": "bottom", "values": [25, 50, 75, 100, 125, 150], "title": "Stand age (yr)", "titleX": 190}},
"y": {"field": "area", "type": "quantitative", "scale": {"type": "log", "domain": [0.0515, 1660], "nice": false}, "axis": {"orient": "right", "values": [0.1, 1, 10, 100, 1000], "labelExpr": "datum.value < 1 ? '0.1' : format(datum.value, 'd')", "title": "Stand area (ha)"}},
"detail": {"field": "c", "type": "nominal"},
"order": {"value": null}
}},
{"mark": {"type": "point", "opacity": 0},
"encoding": {
"x": {"field": "age", "type": "quantitative"},
"y": {"field": "area", "type": "quantitative", "axis": {"orient": "right", "values": [0.06,0.07,0.08,0.09,0.2,0.3,0.4,0.5,0.6,0.7,0.8,0.9,2,3,4,5,6,7,8,9,20,30,40,50,60,70,80,90,200,300,400,500,600,700,800,900], "tickSize": -4, "tickWidth": 1.5, "labels": false, "title": null}}
}}
],
"resolve": {"axis": {"y": "independent"}}
}
]
}
